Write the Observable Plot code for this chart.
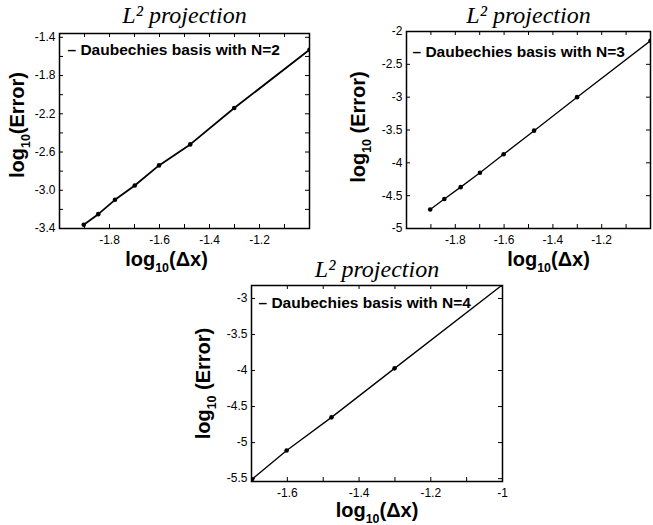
<!DOCTYPE html>
<html><head><meta charset="utf-8">
<script src="https://cdn.jsdelivr.net/npm/d3@7"></script>
<script src="https://cdn.jsdelivr.net/npm/@observablehq/plot@0.6"></script>
<style>
html,body{margin:0;padding:0;background:#fff;overflow:hidden;}
#wrap{position:relative;width:653px;height:525px;overflow:hidden;background:#fff;}
#wrap > div{position:absolute;}
</style></head><body>
<div id="wrap"><div id="p1"></div><div id="p2"></div><div id="p3"></div></div>
<script>
// ---- data ----
const titleText = "L² projection";
const xLabelText = "log₁₀(Δx)";
const yLabel1 = "log₁₀(Error)";
const yLabel23 = "log₁₀ (Error)";

// panel 1 : N=2
const legend1 = "– Daubechies basis with N=2";
const x1 = [-1.903, -1.845, -1.778, -1.699, -1.602, -1.477, -1.301, -1.0];
const y1 = [-3.36, -3.25, -3.10, -2.95, -2.74, -2.52, -2.14, -1.53];
const xTicks1 = [-1.9, -1.8, -1.7, -1.6, -1.5, -1.4, -1.3, -1.2, -1.1];
const xTickLabels1 = [-1.8, -1.6, -1.4, -1.2];
const yTicks1 = [-3.4, -3.2, -3.0, -2.8, -2.6, -2.4, -2.2, -2.0, -1.8, -1.6, -1.4];
const yTickLabels1 = [-3.4, -3.0, -2.6, -2.2, -1.8, -1.4];

// panel 2 : N=3
const legend2 = "– Daubechies basis with N=3";
const x2 = [-1.903, -1.845, -1.778, -1.699, -1.602, -1.477, -1.301, -1.0];
const y2 = [-4.71, -4.55, -4.37, -4.15, -3.87, -3.51, -3.00, -2.14];
const xTicks2 = [-1.9, -1.8, -1.7, -1.6, -1.5, -1.4, -1.3, -1.2, -1.1];
const xTickLabels2 = [-1.8, -1.6, -1.4, -1.2];
const yTicks2 = [-5, -4.5, -4, -3.5, -3, -2.5, -2];
const yTickLabels2 = [-5, -4.5, -4, -3.5, -3, -2.5, -2];

// panel 3 : N=4
const legend3 = "– Daubechies basis with N=4";
const x3 = [-1.699, -1.602, -1.477, -1.301, -1.0];
const y3 = [-5.51, -5.11, -4.65, -3.97, -2.81];
const xTicks3 = [-1.6, -1.5, -1.4, -1.3, -1.2, -1.1];
const xTickLabels3 = [-1.6, -1.4, -1.2, -1];
const yTicks3 = [-5.5, -5, -4.5, -4, -3.5, -3];
const yTickLabels3 = [-5.5, -5, -4.5, -4, -3.5, -3];

const SANS = "Liberation Sans, Arial, Helvetica, sans-serif";
const TICK = 4;

function panel(cfg) {
  const rows = cfg.xs.map((x, i) => ({x, y: cfg.ys[i]}));
  const bold = {fontWeight: "bold", fontFamily: SANS, fill: "black"};
  const pw = cfg.width - cfg.ml - cfg.mr;   // frame width
  const ph = cfg.height - cfg.mt - cfg.mb;  // frame height
  const rule = {stroke: "black", strokeWidth: 1};
  return Plot.plot({
    width: cfg.width, height: cfg.height,
    marginLeft: cfg.ml, marginRight: cfg.mr, marginTop: cfg.mt, marginBottom: cfg.mb,
    style: {fontSize: "12px", fontFamily: SANS, color: "black", background: "transparent", overflow: "visible"},
    x: {domain: cfg.xDomain},
    y: {domain: cfg.yDomain},
    marks: [
      Plot.line(rows, {x: "x", y: "y", stroke: "black", strokeWidth: cfg.lw, clip: true}),
      Plot.dot(rows, {x: "x", y: "y", r: 2.3, fill: "black", clip: true}),
      // inward ticks on all four sides of the box
      Plot.ruleX(cfg.xTicks, {x: d => d, insetTop: ph - TICK, ...rule}),
      Plot.ruleX(cfg.xTicks, {x: d => d, insetBottom: ph - TICK, ...rule}),
      Plot.ruleY(cfg.yTicks, {y: d => d, insetRight: pw - TICK, ...rule}),
      Plot.ruleY(cfg.yTicks, {y: d => d, insetLeft: pw - TICK, ...rule}),
      // tick labels
      Plot.axisX(cfg.xTickLabels, {anchor: "bottom", tickSize: 0, tickPadding: 7, tickFormat: cfg.xFmt, label: null, fill: "black"}),
      Plot.axisY(cfg.yTickLabels, {anchor: "left", tickSize: 0, tickPadding: 4, tickFormat: cfg.yFmt, label: null, fill: "black"}),
      Plot.frame({stroke: "black", strokeWidth: 1.5}),
      // title
      Plot.text([titleText], {text: d => d, frameAnchor: "top", lineAnchor: "bottom", dy: cfg.titleDy,
        fontFamily: "Liberation Serif, Times New Roman, serif", fontStyle: "italic", fontSize: 24,
        letterSpacing: "1.5px", fill: "black"}),
      // legend
      Plot.text([cfg.legend], {text: d => d, frameAnchor: "top-left", textAnchor: "start", lineAnchor: "middle",
        dx: cfg.legendDx, dy: cfg.legendDy, fontSize: 15.5, ...bold}),
      // axis labels
      Plot.text([cfg.yLabel], {text: d => d, frameAnchor: "left", rotate: -90, textAnchor: "middle", lineAnchor: "middle",
        dx: cfg.yLabelDx, dy: cfg.yLabelDy, fontSize: 20, ...bold}),
      Plot.text([xLabelText], {text: d => d, frameAnchor: "bottom", textAnchor: "middle", lineAnchor: "bottom",
        dx: cfg.xLabelDx, dy: cfg.xLabelDy, fontSize: 20, ...bold})
    ]
  });
}

// turn the "₁₀" of the axis labels into a real lowered subscript
function subscriptify(root) {
  d3.select(root).selectAll("text").each(function() {
    const t = this.textContent;
    const i = t.indexOf("₁₀");
    if (i < 0) return;
    const sel = d3.select(this);
    sel.text(null);
    sel.append("tspan").text(t.slice(0, i));
    sel.append("tspan").attr("font-size", "0.62em").attr("dy", 6).text("10");
    sel.append("tspan").attr("dy", -6).text(t.slice(i + 2));
  });
}

const f1 = d => d.toFixed(1);
const fS = d => String(d);

function place(id, left, top, cfg) {
  const el = document.getElementById(id);
  el.style.left = left + "px"; el.style.top = top + "px";
  const svg = panel(cfg);
  el.appendChild(svg);
  subscriptify(svg);
}

place("p1", 0, 0, {
  xs: x1, ys: y1, width: 326, height: 272, ml: 59, mr: 17, mt: 33, mb: 44,
  xDomain: [-2, -1], yDomain: [-3.4, -1.36],
  xTicks: xTicks1, xTickLabels: xTickLabels1, yTicks: yTicks1, yTickLabels: yTickLabels1,
  xFmt: f1, yFmt: f1, lw: 1.8, legend: legend1, legendDx: 8, legendDy: 17, titleDy: -11,
  yLabel: yLabel1, yLabelDx: -42, yLabelDy: -6, xLabelDx: -18, xLabelDy: 37
});

place("p2", 326, 0, {
  xs: x2, ys: y2, width: 327, height: 272, ml: 80, mr: 3, mt: 31, mb: 44,
  xDomain: [-2, -1], yDomain: [-5, -2],
  xTicks: xTicks2, xTickLabels: xTickLabels2, yTicks: yTicks2, yTickLabels: yTickLabels2,
  xFmt: f1, yFmt: fS, lw: 1.3, legend: legend2, legendDx: 6, legendDy: 21, titleDy: -9,
  yLabel: yLabel23, yLabelDx: -48, yLabelDy: -3, xLabelDx: 20, xLabelDy: 37
});

place("p3", 180, 255, {
  xs: x3, ys: y3, width: 340, height: 270, ml: 71, mr: 18, mt: 30, mb: 44,
  xDomain: [-1.7, -1], yDomain: [-5.54, -2.82],
  xTicks: xTicks3, xTickLabels: xTickLabels3, yTicks: yTicks3, yTickLabels: yTickLabels3,
  xFmt: fS, yFmt: fS, lw: 1.3, legend: legend3, legendDx: 7, legendDy: 18, titleDy: -9,
  yLabel: yLabel23, yLabelDx: -48, yLabelDy: 0, xLabelDx: 0, xLabelDy: 35
});
</script>
</body></html>
